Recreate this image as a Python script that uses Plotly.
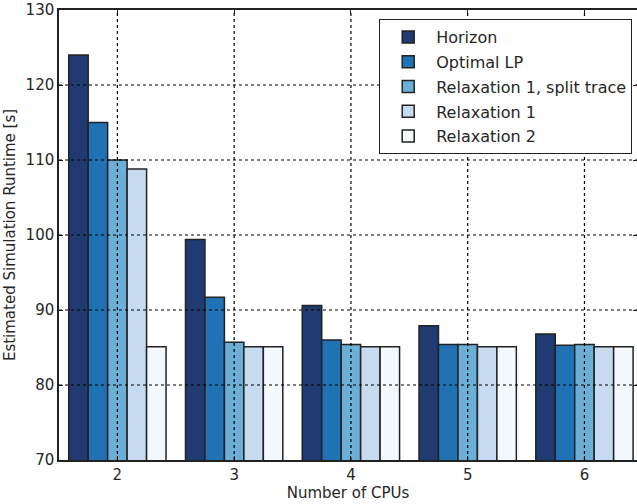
import plotly.graph_objects as go

cpus = [2, 3, 4, 5, 6]
series_names = ["Horizon", "Optimal LP", "Relaxation 1, split trace", "Relaxation 1", "Relaxation 2"]
horizon = [124.0, 99.4, 90.6, 87.9, 86.8]
optimal_lp = [115.0, 91.7, 86.0, 85.4, 85.3]
relax1_split = [110.0, 85.7, 85.4, 85.4, 85.4]
relax1 = [108.8, 85.1, 85.1, 85.1, 85.1]
relax2 = [85.1, 85.1, 85.1, 85.1, 85.1]
y_ticks = [70, 80, 90, 100, 110, 120, 130]

colors = ["#203a72", "#2171b5", "#6baed6", "#c6dbef", "#f3f8fd"]
all_series = [horizon, optimal_lp, relax1_split, relax1, relax2]

fig = go.Figure()
for i, (name, vals, col) in enumerate(zip(series_names, all_series, colors)):
    fig.add_trace(go.Bar(
        x=cpus, y=vals, name=name, legendgroup=f"g{i}",
        marker=dict(color=col, line=dict(color="#222222", width=1.5)),
    ))

# dotted grid drawn above the bars
shapes = []
for yv in y_ticks[1:-1]:
    shapes.append(dict(type="line", xref="paper", yref="y", x0=0, x1=1, y0=yv, y1=yv,
                       line=dict(color="black", width=1.2, dash="dot"), layer="above"))
for xv in cpus:
    shapes.append(dict(type="line", xref="x", yref="paper", x0=xv, x1=xv, y0=0, y1=1,
                       line=dict(color="black", width=1.2, dash="dot"), layer="above"))

fig.update_layout(
    width=637, height=504,
    margin=dict(l=59, r=0, t=10, b=44),
    paper_bgcolor="white", plot_bgcolor="white",
    barmode="group", bargap=1/6, bargroupgap=0,
    font=dict(family="DejaVu Sans", size=15, color="#262626"),
    shapes=shapes,
    legend=dict(
        x=0.554, y=0.98, xanchor="left", yanchor="top",
        bgcolor="white", bordercolor="#222222", borderwidth=1,
        font=dict(size=16), itemwidth=46, tracegroupgap=1,
    ),
    xaxis=dict(
        range=[1.5, 6.45], tickvals=cpus, ticktext=[str(c) for c in cpus],
        showgrid=False, showline=True, linecolor="#222222", linewidth=1.5,
        mirror="ticks", ticks="inside", ticklen=4, tickcolor="#222222",
        title=dict(text="Number of CPUs", standoff=2, font=dict(size=15)),
        zeroline=False, automargin=False,
    ),
    yaxis=dict(
        range=[70, 130], tickvals=y_ticks,
        showgrid=False, showline=True, linecolor="#222222", linewidth=1.5,
        mirror="ticks", ticks="inside", ticklen=4, tickcolor="#222222",
        title=dict(text="Estimated Simulation Runtime [s]", standoff=6, font=dict(size=15)),
        zeroline=False, automargin=False,
    ),
)

fig.write_html("out.html", config={"displayModeBar": False},
               post_script="document.body.style.margin='0';document.body.style.padding='0';")
